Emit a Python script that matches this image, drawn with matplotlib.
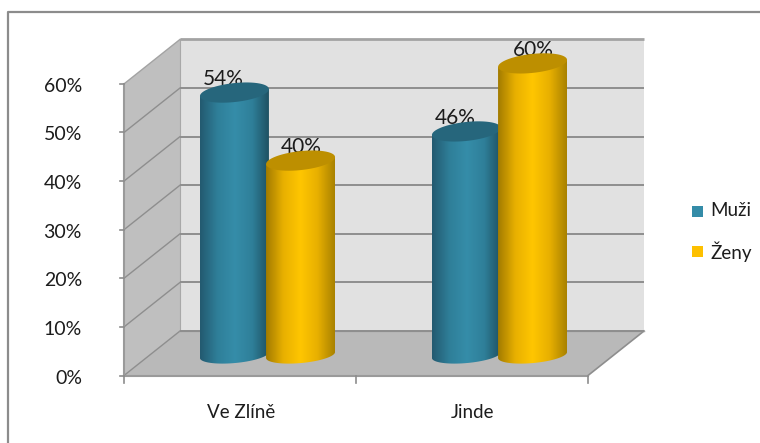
import numpy as np
import matplotlib
matplotlib.use("Agg")
import matplotlib.pyplot as plt
from matplotlib.colors import LinearSegmentedColormap
from matplotlib.patches import Polygon, PathPatch, Rectangle
from matplotlib.path import Path
from matplotlib.lines import Line2D

categories = ["Ve Zlíně", "Jinde"]
series_names = ["Muži", "Ženy"]
muzi = [54, 46]
zeny = [40, 60]
y_ticks = [0, 10, 20, 30, 40, 50, 60]
y_tick_labels = ["0%", "10%", "20%", "30%", "40%", "50%", "60%"]

W, H = 760, 443
PX_X = 232.0            # pixels per category
PX_Y = 4.86             # pixels per percentage point
X0, Y0 = 124.0, 375.5   # pixel position of the data origin
DX, DY = 56 / PX_X, 44.5 / PX_Y   # depth offset in data units

plt.rcParams["font.family"] = ["Lato", "DejaVu Sans"]
fig = plt.figure(figsize=(W / 100, H / 100), dpi=100, facecolor="white")
ax = fig.add_axes([0, 0, 1, 1])
xlim = (-X0 / PX_X, (W - X0) / PX_X)
ylim = ((Y0 - H) / PX_Y, Y0 / PX_Y)
ax.axis("off")

GRID = "#8e8e8e"
TXT = "#1c1c1c"

# outer chart frame
ax.add_line(Line2D([(8.5 - X0) / PX_X] * 2 + [xlim[1]],
                   [ylim[0], (Y0 - 11.5) / PX_Y, (Y0 - 11.5) / PX_Y],
                   color="#8c8c8c", lw=1.6, zorder=1))

ymax = max(y_ticks)
# walls and floor
ax.add_patch(Polygon([(0, 0), (DX, DY), (DX, ymax + DY), (0, ymax)], fc="#bfbfbf", ec="none", zorder=1))
ax.add_patch(Polygon([(DX, DY), (2 + DX, DY), (2 + DX, ymax + DY), (DX, ymax + DY)], fc="#e1e1e1", ec="none", zorder=1))
ax.add_patch(Polygon([(0, 0), (DX, DY), (2 + DX, DY), (2, 0)], fc="#b9b9b9", ec="none", zorder=1.1))

cyl_a = 34.5 / PX_X       # radius in x
cyl_b = 9.5 / PX_Y        # radius in depth
tilt = 3.5 / PX_Y         # rise of the right edge over the left edge
base = 20.5 / PX_Y        # floor level of the cylinder axis
offsets = [-0.144, 0.141]
centers = [0.62, 1.62]

# grid lines on the walls
for t in y_ticks:
    col, lw = ("#a3a3a3", 2.0) if t == ymax else (GRID, 1.4)
    ax.plot([DX, 2 + DX], [t + DY, t + DY], color=col, lw=lw, zorder=3.5, solid_capstyle="butt")
    ax.plot([0, DX], [t, t + DY], color=col, lw=1.0, zorder=1.3)
ax.plot([DX, DX], [DY, ymax + DY], color="#a8a8a8", lw=0.8, zorder=1.3)
ax.plot([2, 2 + DX], [0, DY], color=GRID, lw=1.2, zorder=1.3)
ax.plot([DX, 2 + DX], [DY, DY], color="#a5a5a5", lw=1.0, zorder=1.3)

# axes
ax.plot([0, 0], [0, ymax], color="#9a9a9a", lw=1.5, zorder=2)
ax.plot([0, 2], [0, 0], color="#9a9a9a", lw=1.5, zorder=2)
for t, lab in zip(y_ticks, y_tick_labels):
    ax.plot([-4 / PX_X, 0], [t, t], color="#8c8c8c", lw=1.2, zorder=2)
    ax.text(-42 / PX_X, t - 2.5 / PX_Y, lab, ha="right", va="center", fontsize=14, color=TXT)
for i in range(len(categories) + 1):
    ax.plot([i, i], [-7 / PX_Y, 0], color="#8c8c8c", lw=1.2, zorder=2)
for i, c in enumerate(categories):
    ax.text(i + 0.5 + 0.003, -37.5 / PX_Y, c, ha="center", va="center", fontsize=13.5, color=TXT, zorder=3)

blue_map = LinearSegmentedColormap.from_list("b", ["#235a70", "#2f7f99", "#358da9", "#2f7f99", "#1e4f60"])
gold_map = LinearSegmentedColormap.from_list("g", ["#a37c00", "#e8b000", "#ffc600", "#e8b000", "#a98200"])
grad = np.linspace(0, 1, 128).reshape(1, -1)


def ellipse(cx, cy, n=60):
    a = np.linspace(0, 2 * np.pi, n)
    return np.c_[cx + cyl_a * np.cos(a), cy + cyl_b * np.sin(a) + tilt * np.cos(a)]


def cylinder(cx, value, cmap, top_col, z):
    bot = base
    top = base + value
    a = np.linspace(np.pi, 2 * np.pi, 40)
    lower = np.c_[cx + cyl_a * np.cos(a), bot + (cyl_b * 0.85) * np.sin(a) + tilt * 0.85 * np.cos(a)]
    upper = [(cx + cyl_a, top + tilt), (cx - cyl_a, top - tilt)]
    verts = np.vstack([lower, upper, lower[:1]])
    codes = [Path.MOVETO] + [Path.LINETO] * (len(verts) - 2) + [Path.CLOSEPOLY]
    clip = PathPatch(Path(verts, codes), fc="none", ec="none", transform=ax.transData)
    ax.add_patch(clip)
    im = ax.imshow(grad, cmap=cmap, extent=(cx - cyl_a, cx + cyl_a, bot - 20, top + 20),
                   aspect="auto", zorder=z, interpolation="bilinear")
    im.set_clip_path(clip)
    ax.add_patch(Polygon(ellipse(cx, top), fc=top_col, ec="none", zorder=z + 0.01))


series = [(muzi, offsets[0], blue_map, "#26667c"), (zeny, offsets[1], gold_map, "#bd8f00")]
for vals, off, cmap, top_col in series:
    for i, v in enumerate(vals):
        cx = centers[i] + off
        z = 5 if vals is zeny else 4
        cylinder(cx, v, cmap, top_col, z)
        ax.text(cx - 11 / PX_X if vals is muzi else cx + 1 / PX_X, v + base + 13.5 / PX_Y, f"{v}%",
                ha="center", va="center", fontsize=15, color=TXT, zorder=3)

# legend
legend_cols = ["#348ca8", "#fdc000"]
for k, (name, col) in enumerate(zip(series_names, legend_cols)):
    yy = (Y0 - (211 + k * 40.5)) / PX_Y
    ax.add_patch(Rectangle(((692 - X0) / PX_X, yy - 5.5 / PX_Y), 11 / PX_X, 11 / PX_Y, fc=col, ec="none", zorder=3))
    ax.text((710 - X0) / PX_X, yy, name, ha="left", va="center", fontsize=13.5, color=TXT, zorder=3)

ax.set_xlim(*xlim)
ax.set_ylim(*ylim)
fig.savefig("out.png", dpi=100, facecolor="white")
